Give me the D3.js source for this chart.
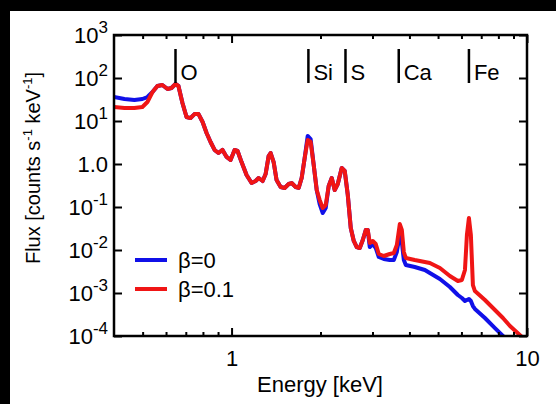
<!DOCTYPE html>
<html>
<head>
<meta charset="utf-8">
<script src="https://cdn.jsdelivr.net/npm/d3@7"></script>
<style>
  body { margin: 0; background: #000; }
  text { font-family: "Liberation Sans", Arial, sans-serif; fill: #000; }
</style>
</head>
<body>
<svg id="chart" width="556" height="404"></svg>
<script>
// energies (keV)
const energy = [0.40, 0.434, 0.469, 0.499, 0.519, 0.540, 0.561, 0.583, 0.607, 0.626,
  0.646, 0.661, 0.682, 0.704, 0.726, 0.749, 0.773, 0.798, 0.823, 0.849,
  0.876, 0.903, 0.932, 0.962, 0.992, 1.024, 1.048, 1.081, 1.124, 1.169,
  1.206, 1.235, 1.274, 1.304, 1.335, 1.356, 1.388, 1.420, 1.466, 1.512,
  1.561, 1.597, 1.648, 1.687, 1.727, 1.768, 1.810, 1.852, 1.897, 1.942,
  1.987, 2.035, 2.083, 2.132, 2.183, 2.234, 2.288, 2.360, 2.416, 2.474,
  2.532, 2.592, 2.653, 2.716, 2.781, 2.846, 2.891, 2.936, 3.006, 3.077,
  3.150, 3.275, 3.432, 3.541, 3.626, 3.711, 3.770, 3.829, 3.889, 4.169,
  4.511, 4.690, 5.072, 5.483, 5.835, 6.020, 6.166, 6.260, 6.359, 6.457,
  6.560, 6.664, 7.205, 7.790, 8.291, 8.758, 9.617];

// flux, beta = 0 (blue)
const fluxBeta0 = [36.1, 32.5, 30.8, 32.5, 36.1, 47.3, 65.2, 68.8, 55.5, 58.5,
  72.5, 65.2, 26.2, 12.4, 11.7, 14.5, 14.5, 9.48, 5.26, 3.25,
  2.12, 1.80, 2.12, 1.46, 1.24, 2.12, 2.01, 1.11, 0.555, 0.361,
  0.402, 0.472, 0.402, 0.585, 1.53, 1.80, 1.11, 0.425, 0.292, 0.277,
  0.343, 0.361, 0.292, 0.277, 0.472, 1.38, 4.48, 3.81, 0.948, 0.248,
  0.117, 0.0725, 0.0948, 0.308, 0.472, 0.248, 0.343, 0.807, 0.687, 0.19,
  0.0325, 0.0162, 0.0117, 0.0111, 0.0171, 0.0292, 0.0292, 0.0117, 0.0138, 0.0111,
  0.00687, 0.00618, 0.00585, 0.00585, 0.00898, 0.0236, 0.0153, 0.00585, 0.00448, 0.00402,
  0.00343, 0.00292, 0.00212, 0.00138, 0.000898, 0.000765, 0.000652, 0.000687, 0.000725, 0.000652,
  0.000498, 0.000425, 0.000262, 0.000153, 0.0001, 0.0000687, 0.0000361];

// flux, beta = 0.1 (red)
const fluxBeta01 = [21.2, 20.1, 20.1, 21.2, 27.7, 47.3, 65.2, 68.8, 55.5, 58.5,
  72.5, 65.2, 26.2, 12.4, 11.7, 14.5, 14.5, 9.48, 5.26, 3.25,
  2.12, 1.80, 2.12, 1.46, 1.24, 2.12, 2.01, 1.11, 0.555, 0.361,
  0.402, 0.472, 0.402, 0.585, 1.53, 1.80, 1.11, 0.425, 0.292, 0.277,
  0.343, 0.361, 0.292, 0.277, 0.472, 1.38, 3.61, 3.25, 0.948, 0.248,
  0.146, 0.0948, 0.111, 0.308, 0.472, 0.248, 0.343, 0.807, 0.687, 0.19,
  0.0325, 0.0162, 0.0117, 0.0111, 0.0171, 0.0292, 0.0292, 0.0145, 0.0162, 0.0138,
  0.00807, 0.00725, 0.00807, 0.00851, 0.0131, 0.0402, 0.0292, 0.00898, 0.00652, 0.00585,
  0.00526, 0.00498, 0.00381, 0.00248, 0.00190, 0.00201, 0.00343, 0.0223, 0.0555, 0.0223,
  0.00153, 0.00111, 0.000687, 0.000402, 0.000262, 0.000171, 0.0000948];

const seriesLabels = ["β=0", "β=0.1"];
const seriesColors = ["#1010e8", "#f01515"];

const lineNames = ["O", "Si", "S", "Ca", "Fe"];
const lineEnergies = [0.646, 1.82, 2.43, 3.68, 6.36];

const yTicks = [1e-4, 1e-3, 1e-2, 1e-1, 1, 10, 100, 1000];
const yTickBase = ["10", "10", "10", "10", "1.0", "10", "10", "10"];
const yTickExp = ["-4", "-3", "-2", "-1", "", "1", "2", "3"];
const xMajor = [1, 10];
const xMinor = [0.5, 0.6, 0.7, 0.8, 0.9, 2, 3, 4, 5, 6, 7, 8, 9];

const svg = d3.select("#chart");
svg.append("rect").attr("width", 556).attr("height", 404).attr("fill", "#000");
svg.append("rect").attr("x", 10).attr("y", 11).attr("width", 546).attr("height", 393).attr("fill", "#fff");

const pLeft = 114, pRight = 527, pTop = 35, pBottom = 336;
const x = d3.scaleLog().domain([0.4, 10]).range([pLeft, pRight]);
const y = d3.scaleLog().domain([1e-4, 1e3]).range([pBottom, pTop]);

svg.append("clipPath").attr("id", "plotclip")
  .append("rect").attr("x", pLeft).attr("y", pTop).attr("width", pRight - pLeft).attr("height", pBottom - pTop);

// curves
const line = d3.line().x(d => x(d[0])).y(d => y(d[1]));
[fluxBeta0, fluxBeta01].forEach((f, i) => {
  svg.append("path")
    .datum(energy.map((e, j) => [e, f[j]]))
    .attr("clip-path", "url(#plotclip)")
    .attr("fill", "none")
    .attr("stroke", seriesColors[i])
    .attr("stroke-width", 4)
    .attr("stroke-linejoin", "round")
    .attr("d", line);
});

// axes (ticks point inward)
const bottomG = svg.append("g").attr("transform", `translate(0,${pBottom})`);
bottomG.call(d3.axisBottom(x).tickValues(xMinor).tickSize(-4).tickFormat(""));
bottomG.append("g").call(d3.axisBottom(x).tickValues(xMajor).tickSize(-8).tickPadding(14).tickFormat(d3.format("d")));
const topG = svg.append("g").attr("transform", `translate(0,${pTop})`);
topG.call(d3.axisTop(x).tickValues(xMinor).tickSize(-4).tickFormat(""));
topG.append("g").call(d3.axisTop(x).tickValues(xMajor).tickSize(-8).tickFormat(""));

svg.append("g").attr("transform", `translate(${pLeft},0)`)
  .call(d3.axisLeft(y).tickValues(yTicks).tickSize(-8).tickFormat(""));
svg.append("g").attr("transform", `translate(${pRight},0)`)
  .call(d3.axisRight(y).tickValues(yTicks).tickSize(-8).tickFormat(""));

svg.selectAll(".domain").remove();
svg.selectAll(".tick line").attr("stroke", "#000").attr("stroke-width", 2);
svg.selectAll(".tick text").attr("font-size", 22).attr("fill", "#000")
  .style("font-family", '"Liberation Sans", Arial, sans-serif');

svg.append("rect").attr("x", pLeft).attr("y", pTop).attr("width", pRight - pLeft).attr("height", pBottom - pTop)
  .attr("fill", "none").attr("stroke", "#000").attr("stroke-width", 2.5);

// y tick labels with superscript exponents
yTicks.forEach((v, i) => {
  const t = svg.append("text")
    .attr("x", pLeft - 6).attr("y", y(v) + 8)
    .attr("text-anchor", "end").attr("font-size", 22);
  t.append("tspan").text(yTickBase[i]);
  if (yTickExp[i]) t.append("tspan").attr("dy", -10).attr("font-size", 17).text(yTickExp[i]);
});

// element line markers
lineNames.forEach((n, i) => {
  const px = x(lineEnergies[i]);
  svg.append("line").attr("x1", px).attr("x2", px).attr("y1", 49).attr("y2", 83)
    .attr("stroke", "#000").attr("stroke-width", 2.5);
  svg.append("text").attr("x", px + 5).attr("y", 80).attr("font-size", 22).text(n);
});

// legend
seriesLabels.forEach((s, i) => {
  const ly = 260 + i * 29;
  svg.append("line").attr("x1", 135).attr("x2", 167).attr("y1", ly).attr("y2", ly)
    .attr("stroke", seriesColors[i]).attr("stroke-width", 4);
  svg.append("text").attr("x", 178).attr("y", ly + 8).attr("font-size", 22).text(s);
});

// axis titles
svg.append("text").attr("x", 320).attr("y", 392)
  .attr("text-anchor", "middle").attr("font-size", 22).text("Energy [keV]");

const yt = svg.append("text")
  .attr("transform", "translate(40,168) rotate(-90)")
  .attr("text-anchor", "middle").attr("font-size", 20);
yt.append("tspan").text("Flux [counts s");
yt.append("tspan").attr("dy", -8).attr("font-size", 13).text("-1");
yt.append("tspan").attr("dy", 8).text(" keV");
yt.append("tspan").attr("dy", -8).attr("font-size", 13).text("-1");
yt.append("tspan").attr("dy", 8).text("]");
</script>
</body>
</html>
